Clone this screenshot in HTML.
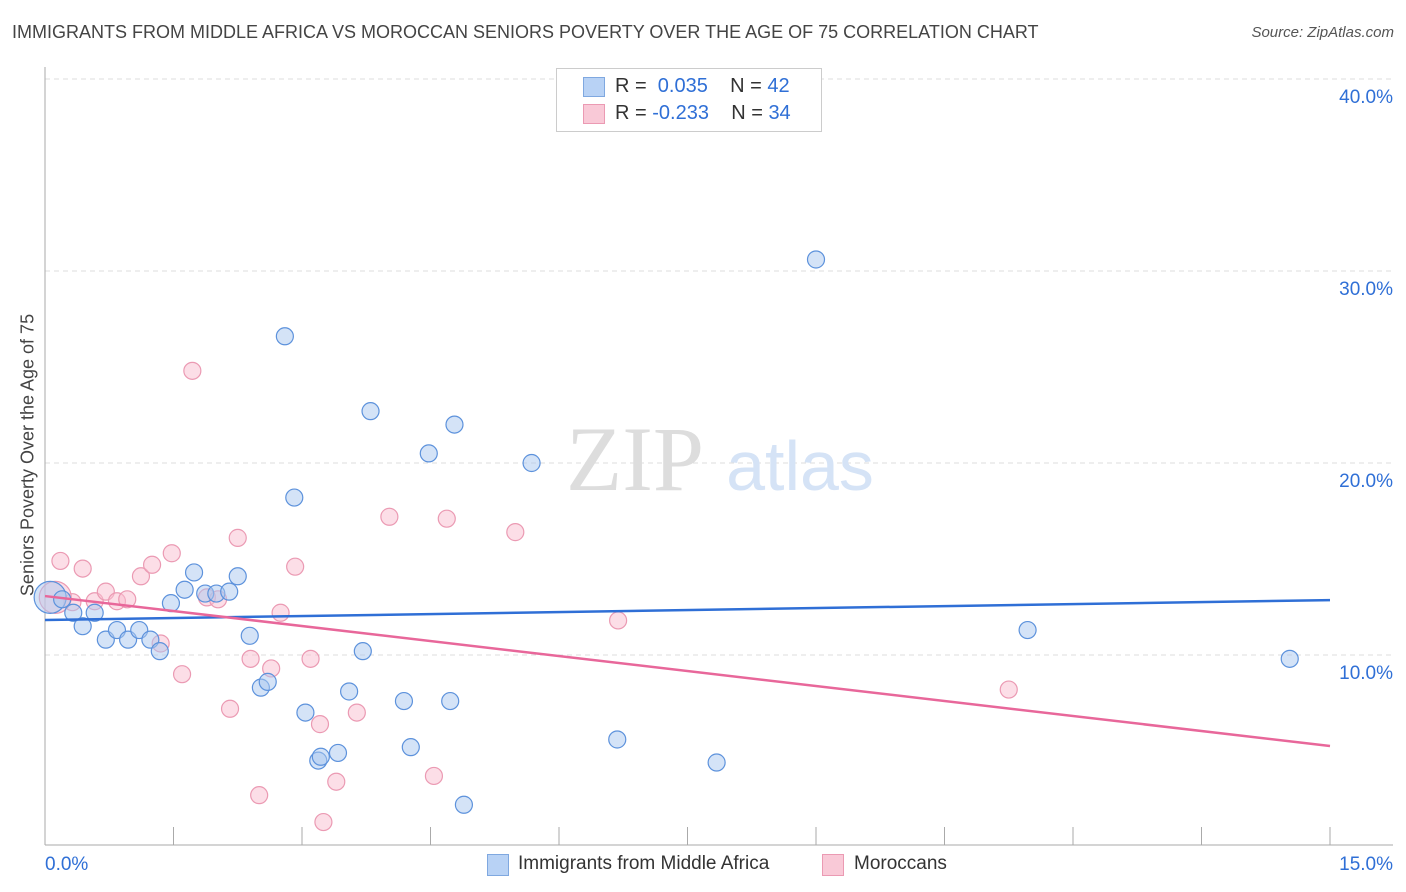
<!DOCTYPE html>
<html><head><meta charset="utf-8"><style>
body{margin:0;background:#fff;font-family:"Liberation Sans",sans-serif;}
#c{position:relative;width:1406px;height:892px;}
.t{position:absolute;white-space:nowrap;}
</style></head><body><div id="c">
<div class="t" style="left:12px;top:22px;font-size:18px;color:#444;">IMMIGRANTS FROM MIDDLE AFRICA VS MOROCCAN SENIORS POVERTY OVER THE AGE OF 75 CORRELATION CHART</div>
<div class="t" style="right:12px;top:24px;font-size:15px;color:#555;font-style:italic;">Source: ZipAtlas.com</div>
<div class="t" style="left:28px;top:455px;font-size:18px;color:#444;transform:translate(-50%,-50%) rotate(-90deg);">Seniors Poverty Over the Age of 75</div>
<svg id="s" width="1406" height="892" style="position:absolute;left:0;top:0"></svg>
<div style="position:absolute;left:556px;top:68px;width:264px;height:62px;border:1px solid #ccc;background:#fff;font-size:20px;">
<div style="position:absolute;left:26px;top:8px;width:20px;height:18px;background:#b8d2f5;border:1px solid #7fa8e0;"></div>
<div class="t" style="left:58px;top:6px;color:#333;">R = &nbsp;<span style="color:#2f6fd6">0.035</span>&nbsp;&nbsp;&nbsp; N = <span style="color:#2f6fd6">42</span></div>
<div style="position:absolute;left:26px;top:35px;width:20px;height:18px;background:#f9c9d7;border:1px solid #eb9ab3;"></div>
<div class="t" style="left:58px;top:33px;color:#333;">R = <span style="color:#2f6fd6">-0.233</span>&nbsp;&nbsp;&nbsp; N = <span style="color:#2f6fd6">34</span></div>
</div>
<div>
<div style="position:absolute;left:487px;top:854px;width:20px;height:20px;background:#b8d2f5;border:1px solid #7fa8e0;"></div>
<div class="t" style="left:518px;top:853px;font-size:19px;color:#333;">Immigrants from Middle Africa</div>
<div style="position:absolute;left:822px;top:854px;width:20px;height:20px;background:#f9c9d7;border:1px solid #eb9ab3;"></div>
<div class="t" style="left:854px;top:853px;font-size:19px;color:#333;">Moroccans</div>
</div>
</div>
<script>
const blueX=[0.06,0.2,0.33,0.44,0.58,0.71,0.84,0.97,1.1,1.23,1.34,1.47,1.63,1.74,1.87,2.0,2.15,2.25,2.39,2.52,2.6,2.8,2.91,3.04,3.19,3.22,3.42,3.55,3.71,3.8,4.19,4.27,4.48,4.73,4.78,4.89,5.68,6.68,7.84,9.0,11.47,14.53];
const blueY=[13.0,12.9,12.2,11.5,12.2,10.8,11.3,10.8,11.3,10.8,10.2,12.7,13.4,14.3,13.2,13.2,13.3,14.1,11.0,8.3,8.6,26.6,18.2,7.0,4.5,4.7,4.9,8.1,10.2,22.7,7.6,5.2,20.5,7.6,22.0,2.2,20.0,5.6,4.4,30.6,11.3,9.8];
const pinkX=[0.18,0.44,0.32,0.58,0.71,0.84,0.96,1.12,1.25,1.35,1.48,1.6,1.72,1.89,2.02,2.16,2.25,2.4,2.5,2.64,2.75,2.92,3.1,3.21,3.25,3.4,3.64,4.02,4.54,4.69,5.49,6.69,11.25,0.12];
const pinkY=[14.9,14.5,12.75,12.8,13.3,12.8,12.9,14.1,14.7,10.6,15.3,9.0,24.8,13.0,12.9,7.2,16.1,9.8,2.7,9.3,12.2,14.6,9.8,6.4,1.3,3.4,7.0,17.2,3.7,17.1,16.4,11.8,8.2,13.0];
const trendBlue=[11.82,12.86], trendPink=[13.07,5.26];
const yTicks=[10,20,30,40], xTickCount=10;
const X0=45,X1=1330,Y0=847,PY=19.2;
const sx=v=>X0+(v/15)*(X1-X0), sy=v=>Y0-v*PY;
const s=document.getElementById('s'),NS='http://www.w3.org/2000/svg';
function mk(t,a){const e=document.createElementNS(NS,t);for(const k in a)e.setAttribute(k,a[k]);s.appendChild(e);return e;}
yTicks.forEach(v=>{
 const g=mk('line',{x1:45,x2:1393,y1:sy(v),y2:sy(v),stroke:'#ddd','stroke-dasharray':'5,4'});
 
 
 const t=mk('text',{x:1393,y:sy(v)+24,'text-anchor':'end','font-size':19,fill:'#2f6fd6','font-family':'Liberation Sans'});
 t.textContent=v.toFixed(1)+'%';
 
 
});
const ax=mk('line',{x1:45,x2:45,y1:67,y2:845,stroke:'#aaa'});


const bx=mk('line',{x1:45,x2:1393,y1:845,y2:845,stroke:'#aaa'});


for(let i=0;i<=xTickCount;i++){const x=sx(15*i/xTickCount);
 const tk=mk('line',{x1:x,x2:x,y1:827,y2:845,stroke:'#aaa'});
 
 }
[[0,'start','0.0%'],[15,'end','15.0%']].forEach(([v,a,l])=>{
 const t=mk('text',{x:v?1393:45,y:870,'text-anchor':a,'font-size':19,fill:'#2f6fd6','font-family':'Liberation Sans'});
 t.textContent=l;
 
 });
const w1=mk('text',{x:635,y:490,'text-anchor':'middle','font-size':92,fill:'#ddd','font-family':'Liberation Serif'});w1.textContent='ZIP';


const w2=mk('text',{x:800,y:490,'text-anchor':'middle','font-size':70,fill:'#d5e3f6','font-family':'Liberation Sans'});w2.textContent='atlas';


function pts(X,Y,fill,st,nm){X.forEach((x,i)=>{const r=(i===0&&nm==='blue')||(i===X.length-1&&nm==='pink')?16:8.5;
 const c=mk('circle',{cx:sx(x),cy:sy(Y[i]),r:r,fill:fill,stroke:st,'stroke-width':1.2});
 
 });}
pts(pinkX,pinkY,'rgba(249,190,208,0.5)','#eb9ab3','pink');
pts(blueX,blueY,'rgba(170,200,240,0.5)','#5d92dc','blue');
const lb=mk('line',{x1:sx(0),x2:sx(15),y1:sy(trendBlue[0]),y2:sy(trendBlue[1]),stroke:'#2f6fd6','stroke-width':2.5});


const lp=mk('line',{x1:sx(0),x2:sx(15),y1:sy(trendPink[0]),y2:sy(trendPink[1]),stroke:'#e8679a','stroke-width':2.5});


</script></body></html>
